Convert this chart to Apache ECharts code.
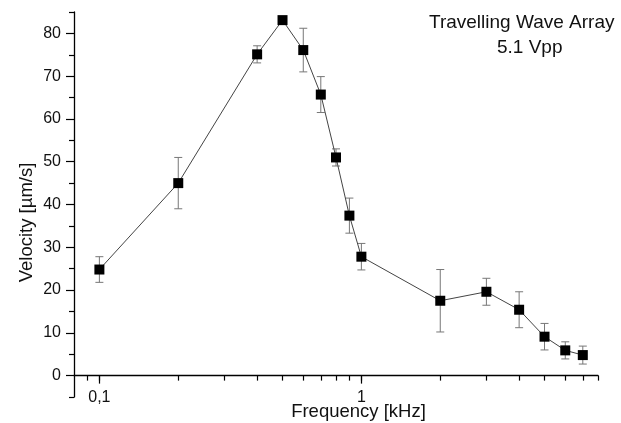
<!DOCTYPE html>
<html>
<head>
<meta charset="utf-8">
<script src="https://cdn.jsdelivr.net/npm/echarts@6/dist/echarts.min.js"></script>
<style>
  html, body { margin: 0; padding: 0; background: #fff; }
  #chart { width: 621px; height: 423px; }
</style>
</head>
<body>
<div id="chart"></div>
<script>
// frequency in kHz, velocity in um/s, symmetric error
const freq = [0.1, 0.2, 0.4, 0.5, 0.6, 0.7, 0.8, 0.9, 1, 2, 3, 4, 5, 6, 7]
const velocity = [24.8, 45, 75.1, 83.1, 76.1, 65.7, 51, 37.4, 27.8, 17.5, 19.6, 15.4, 9.1, 5.9, 4.8]
const velErr = [3, 6, 2, 0.8, 5.1, 4.2, 2, 4.1, 3.1, 7.3, 3.15, 4.2, 3.1, 2, 2.1]

// tick labels
const xLabels = [0.1, 1]
const xMinorTicks = [0.09, 0.1, 0.2, 0.3, 0.4, 0.5, 0.6, 0.7, 0.8, 0.9, 1, 2, 3, 4, 5, 6, 7, 8]
const yLabels = [0, 10, 20, 30, 40, 50, 60, 70, 80]
const yMinorTicks = [-5, 5, 15, 25, 35, 45, 55, 65, 75, 85]

const font = 'Liberation Sans, Arial, sans-serif'

const lineData = freq.map((f, i) => [f, velocity[i]])
const errData = freq.map((f, i) => [f, velocity[i] - velErr[i], velocity[i] + velErr[i]])

// y axis runs -5..85 over the grid, x axis sits at y = 0
const gridTop = 12
const gridBottom = 26
const yZeroOffset = -(423 - gridTop - gridBottom) * 5 / 90

const myChart = echarts.init(document.getElementById('chart'))

myChart.setOption({
  animation: false,
  backgroundColor: '#fff',
  grid: {
    left: 74,
    right: 23,
    top: gridTop,
    bottom: gridBottom,
    containLabel: false,
    outerBoundsMode: 'none'
  },

  graphic: [
    {
      type: 'text',
      left: 429,
      top: 13,
      style: { text: 'Travelling Wave Array', fill: '#111', font: '19px ' + font }
    },
    {
      type: 'text',
      left: 497,
      top: 38,
      style: { text: '5.1 Vpp', fill: '#111', font: '19px ' + font }
    }
  ],

  xAxis: [
    {
      type: 'log',
      position: 'bottom',
      offset: yZeroOffset,
      min: 0.08,
      max: 8,
      name: 'Frequency [kHz]',
      nameLocation: 'middle',
      nameGap: 27,
      nameMoveOverlap: false,
      nameTextStyle: { fontSize: 18.5, color: '#111', fontFamily: font, padding: [0, 0, 0, 45] },
      axisLine: { onZero: false, lineStyle: { color: '#000', width: 1.3 } },
      axisTick: { customValues: xMinorTicks, length: 5, lineStyle: { color: '#000', width: 1.2 } },
      axisLabel: {
        customValues: xLabels,
        margin: 14,
        fontSize: 16,
        color: '#111',
        fontFamily: font,
        formatter: v => String(v).replace('.', ',')
      },
      splitLine: { show: false }
    },
    {
      // longer ticks at the decades
      type: 'log',
      position: 'bottom',
      offset: yZeroOffset,
      min: 0.08,
      max: 8,
      axisLine: { show: false, onZero: false },
      axisTick: { customValues: xLabels, length: 8, lineStyle: { color: '#000', width: 1.2 } },
      axisLabel: { show: false },
      splitLine: { show: false }
    }
  ],
  yAxis: [
    {
      type: 'value',
      position: 'left',
      min: -5,
      max: 85,
      name: 'Velocity [µm/s]',
      nameLocation: 'middle',
      nameGap: 38,
      nameMoveOverlap: false,
      nameTextStyle: { fontSize: 18.5, color: '#111', fontFamily: font, padding: [0, 36, 0, 0] },
      axisLine: { show: true, onZero: false, lineStyle: { color: '#000', width: 1.3 } },
      axisTick: { customValues: yLabels, length: 8, lineStyle: { color: '#000', width: 1.2 } },
      axisLabel: { customValues: yLabels, margin: 13, fontSize: 16, color: '#111', fontFamily: font },
      splitLine: { show: false }
    },
    {
      // minor ticks every 5
      type: 'value',
      position: 'left',
      min: -5,
      max: 85,
      axisLine: { show: false, onZero: false },
      axisTick: { customValues: yMinorTicks, length: 5, lineStyle: { color: '#000', width: 1.2 } },
      axisLabel: { show: false },
      splitLine: { show: false }
    }
  ],

  series: [
    {
      // error bars
      type: 'custom',
      data: errData,
      encode: { x: 0, y: [1, 2] },
      z: 1,
      renderItem: (params, api) => {
        const lo = api.coord([api.value(0), api.value(1)])
        const hi = api.coord([api.value(0), api.value(2)])
        const w = 4
        const style = { stroke: '#777', lineWidth: 1 }
        return {
          type: 'group',
          children: [
            { type: 'line', shape: { x1: lo[0], y1: lo[1], x2: hi[0], y2: hi[1] }, style },
            { type: 'line', shape: { x1: hi[0] - w, y1: hi[1], x2: hi[0] + w, y2: hi[1] }, style },
            { type: 'line', shape: { x1: lo[0] - w, y1: lo[1], x2: lo[0] + w, y2: lo[1] }, style }
          ]
        }
      }
    },
    {
      type: 'line',
      data: lineData,
      z: 2,
      symbol: 'rect',
      symbolSize: 10,
      showAllSymbol: true,
      itemStyle: { color: '#000' },
      lineStyle: { color: '#444', width: 1 }
    }
  ]
})
</script>
</body>
</html>
